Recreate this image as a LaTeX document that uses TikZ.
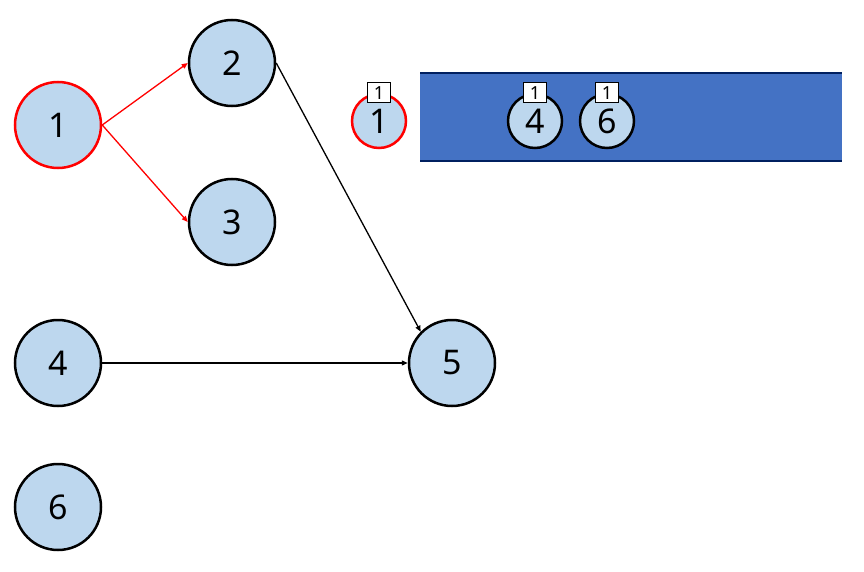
\documentclass[tikz,border=0pt]{standalone}
\usepackage{fontspec}
\setmainfont{Noto Sans}
\usetikzlibrary{arrows.meta}
\definecolor{nodefill}{HTML}{BDD7EE}
\definecolor{qfill}{HTML}{4472C4}
\definecolor{qline}{HTML}{002060}
\begin{document}
\begin{tikzpicture}[x=1pt,y=-1pt,
  big/.style={circle,draw=black,fill=nodefill,line width=2.5pt,minimum size=86pt,inner sep=0pt,font=\fontsize{34}{34}\selectfont},
  small/.style={circle,draw=black,fill=nodefill,line width=2.5pt,minimum size=54pt,inner sep=0pt,font=\fontsize{34}{34}\selectfont},
  visited/.style={draw=red},
  tag/.style={draw=black,fill=white,line width=1pt,minimum width=23pt,minimum height=20pt,inner sep=0pt,font=\fontsize{18}{18}\selectfont},
  edge/.style={line width=1.3pt,-{Triangle[length=6pt,width=5pt]}},
  redge/.style={edge,draw=red}]
\useasboundingbox (0,0) rectangle (864,572);
% graph
\node[big,visited] (n1) at (58,125) {1};
\node[big] (n2) at (232,63) {2};
\node[big] (n3) at (232,222) {3};
\node[big] (n4) at (58,363) {4};
\node[big] (n5) at (452,363) {5};
\node[big] (n6) at (58,507) {6};
\draw[redge] (n1.east) -- (n2.west);
\draw[redge] (n1.east) -- (n3.west);
\draw[edge] (n2.east) -- (n5.135);
\draw[edge] (n4.east) -- (n5.west);
% queue
\fill[qfill] (420,73) rectangle (842,161);
\coordinate (qtl) at (420,73);
\coordinate (qtr) at (842,73);
\coordinate (qbl) at (420,161);
\coordinate (qbr) at (842,161);
\draw[qline,line width=2.5pt] (qtl) -- (qtr);
\draw[qline,line width=2.5pt] (qbl) -- (qbr);
\node[small,visited] (q1) at (379,121) {1};
\node[small] (q4) at (535,121) {4};
\node[small] (q6) at (607,121) {6};
\node[tag] (t1) at (379,93) {1};
\node[tag] (t4) at (535,93) {1};
\node[tag] (t6) at (607,93) {1};
\end{tikzpicture}
\end{document}
